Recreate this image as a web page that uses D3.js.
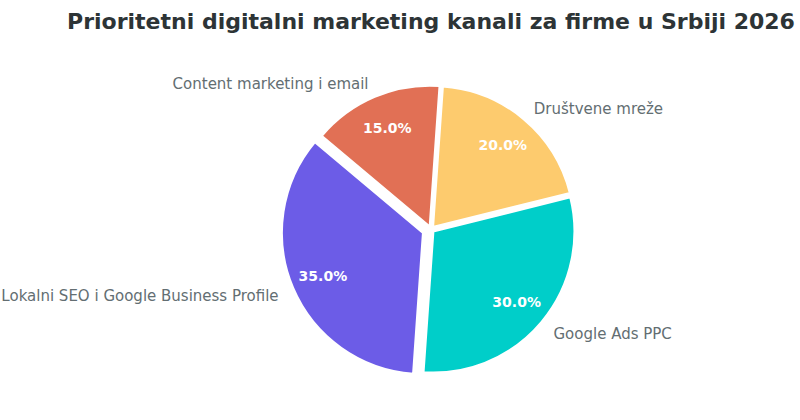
<!DOCTYPE html>
<html>
<head>
<meta charset="utf-8">
<script src="https://cdn.jsdelivr.net/npm/d3@7"></script>
<style>
  body { margin: 0; background: #fff; }
  text { font-family: "DejaVu Sans", sans-serif; }
</style>
</head>
<body>
<div id="chart"></div>
<script>
// data
const categories = ["Lokalni SEO i Google Business Profile", "Google Ads PPC", "Društvene mreže", "Content marketing i email"];
const shares = [35, 30, 20, 15];
const colors = ["#6c5ce7", "#00cec9", "#fdcb6e", "#e17055"];
const titleText = "Prioritetni digitalni marketing kanali za firme u Srbiji 2026";

// layout
const width = 800, height = 420;
const cx = 431, cy = 229.5, radius = 141.5;
const explode = [0.06, 0.02, 0.02, 0.02];

const svg = d3.select("#chart")
  .append("svg")
  .attr("width", width)
  .attr("height", height);

svg.append("text")
  .attr("x", 431)
  .attr("y", 29)
  .attr("text-anchor", "middle")
  .style("font-size", "22px")
  .style("font-weight", "bold")
  .style("fill", "#2d3436")
  .text(titleText);

// start at 140deg (math) and go counterclockwise like matplotlib
const start = (-50 * Math.PI) / 180;
const pie = d3.pie().sort(null).startAngle(start).endAngle(start - 2 * Math.PI);
const arcs = pie(shares);
const total = d3.sum(shares);

const arc = d3.arc().innerRadius(0).outerRadius(radius);

const g = svg.append("g").attr("transform", `translate(${cx}, ${cy})`);

const slices = g.selectAll("g.slice")
  .data(arcs)
  .join("g")
  .attr("class", "slice")
  .attr("transform", function (d, i) {
    const mid = (d.startAngle + d.endAngle) / 2;
    const off = explode[i] * radius;
    return `translate(${Math.sin(mid) * off}, ${-Math.cos(mid) * off})`;
  });

slices.append("path")
  .attr("d", arc)
  .style("fill", (d, i) => colors[i])
  .style("stroke", "#fff")
  .style("stroke-width", 2.5)
  .style("stroke-linejoin", "round");

// percentages
slices.append("text")
  .attr("x", (d) => Math.sin((d.startAngle + d.endAngle) / 2) * radius * 0.77)
  .attr("y", (d) => -Math.cos((d.startAngle + d.endAngle) / 2) * radius * 0.77 + 1)
  .attr("text-anchor", "middle")
  .attr("dominant-baseline", "central")
  .style("font-size", "14px")
  .style("font-weight", "bold")
  .style("fill", "#fff")
  .text((d) => ((d.value / total) * 100).toFixed(1) + "%");

// category labels
slices.append("text")
  .attr("x", (d) => Math.sin((d.startAngle + d.endAngle) / 2) * radius * 1.11)
  .attr("y", (d) => -Math.cos((d.startAngle + d.endAngle) / 2) * radius * 1.11 + 1.5)
  .attr("text-anchor", (d) => Math.sin((d.startAngle + d.endAngle) / 2) > 0 ? "start" : "end")
  .attr("dominant-baseline", "central")
  .style("font-size", "15px")
  .style("fill", "#636e72")
  .text((d, i) => categories[i]);
</script>
</body>
</html>
